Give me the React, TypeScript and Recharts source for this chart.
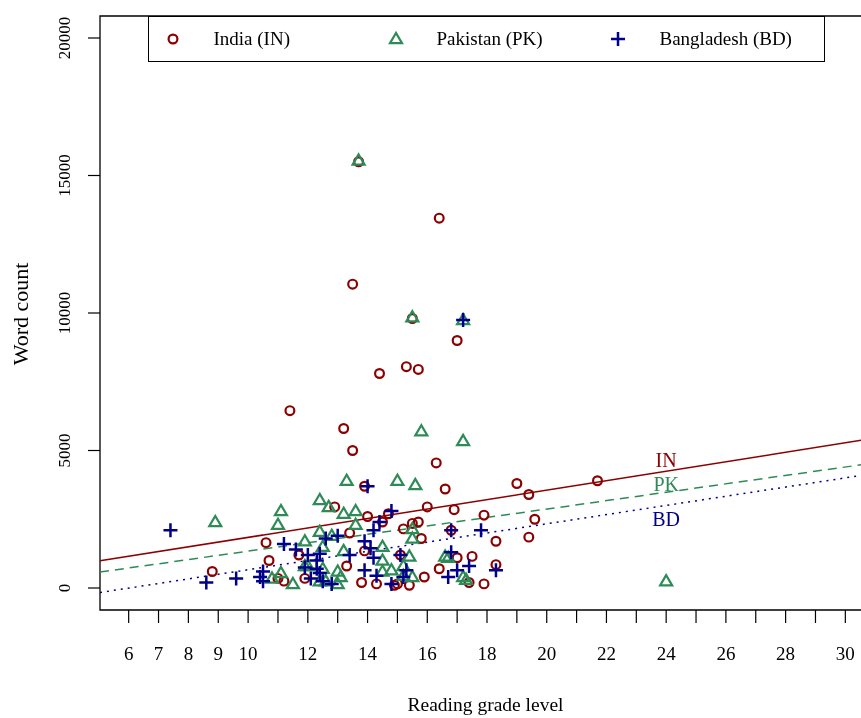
import React from "react";
import {
  Legend,
  ReferenceArea,
  ReferenceDot,
  ReferenceLine,
  Scatter,
  ScatterChart,
  XAxis,
  YAxis
} from "recharts";

const SERIF = '"Liberation Serif", "Times New Roman", serif';

// axis ranges (R style, 4% padding)
const X_MIN = 5.04;
const X_MAX = 30.96;
const Y_MIN = -800;
const Y_MAX = 20800;

const xTicks = [6, 7, 8, 9, 10, 11, 12, 13, 14, 15, 16, 17, 18, 19, 20, 21, 22, 23, 24, 25, 26, 27, 28, 29, 30];
const xTickLabels = [6, 7, 8, 9, 10, 12, 14, 16, 18, 20, 22, 24, 26, 28, 30];
const yTicks = [0, 5000, 10000, 15000, 20000];

// [reading grade level, word count]
const india: [number, number][] = [
  [13.7, 15500], [16.4, 13450], [13.5, 11050], [15.5, 9800], [17.0, 9000], [14.4, 7800],
  [15.3, 8050], [15.7, 7950], [11.4, 6450], [13.2, 5800], [13.5, 5000], [16.3, 4550],
  [16.6, 3600], [19.0, 3800], [19.4, 3400], [21.7, 3900], [12.9, 2950], [16.0, 2950],
  [16.9, 2850], [17.9, 2650], [14.0, 2600], [14.5, 2400], [15.2, 2150], [15.7, 2400],
  [15.5, 2350], [13.4, 2000], [15.8, 1800], [10.6, 1650], [11.7, 1200], [10.7, 1000],
  [13.9, 1350], [15.1, 1200], [17.0, 1100], [17.5, 1150], [8.8, 600], [11.2, 250],
  [13.3, 800], [15.9, 400], [16.4, 700], [17.9, 150], [17.4, 200], [15.4, 100],
  [13.8, 200], [14.3, 150], [15.0, 150], [11.9, 350], [11.0, 350], [19.6, 2500],
  [18.3, 1700], [19.4, 1850], [16.8, 2100], [18.3, 850], [14.9, 100], [13.9, 3700],
  [14.7, 2700]
];

const pakistan: [number, number][] = [
  [13.7, 15550], [15.5, 9850], [17.2, 9750], [8.9, 2400], [11.1, 2800], [11.0, 2300],
  [12.4, 3200], [12.7, 2950], [13.3, 3900], [13.2, 2700], [13.6, 2800], [13.6, 2300],
  [15.0, 3900], [15.6, 3750], [15.8, 5700], [17.2, 5350], [12.4, 2050], [11.9, 1700],
  [14.5, 1500], [15.5, 2150], [15.5, 1800], [15.4, 1150], [16.6, 1150], [11.1, 550],
  [10.8, 350], [11.5, 150], [12.0, 800], [12.4, 250], [13.0, 600], [13.0, 150],
  [13.2, 1350], [14.5, 600], [14.8, 650], [15.2, 800], [15.5, 400], [17.2, 400],
  [12.8, 1900], [24.0, 250], [16.7, 1100], [17.3, 300], [12.5, 1500], [11.9, 800],
  [12.5, 700], [13.1, 400], [12.6, 250], [14.5, 1000], [15.2, 450]
];

const bangladesh: [number, number][] = [
  [17.2, 9750], [14.0, 3700], [7.4, 2100], [8.6, 200], [9.6, 350], [10.4, 400],
  [10.5, 250], [11.2, 1600], [11.6, 1400], [12.0, 1200], [12.4, 1250], [12.6, 1800],
  [13.0, 1900], [11.9, 750], [12.3, 700], [12.1, 350], [12.5, 250], [12.8, 150],
  [14.8, 2800], [14.4, 2400], [14.2, 2100], [13.9, 1700], [13.4, 1200], [14.2, 1100],
  [13.9, 650], [14.3, 450], [14.8, 150], [15.1, 1200], [15.3, 650], [15.2, 400],
  [16.8, 2100], [16.8, 1300], [16.7, 400], [17.0, 650], [17.4, 800], [17.8, 2100],
  [18.3, 650], [12.3, 1000], [12.4, 550], [14.1, 1450], [10.5, 600]
];

const names = ["India (IN)", "Pakistan (PK)", "Bangladesh (BD)"];
const codes = ["IN", "PK", "BD"];
const colors = ["#8B0000", "#2E8B57", "#00008B"];
// fitted lines: word count = intercept + slope * grade
const intercepts = [120, -190, -1005];
const slopes = [172, 153, 167];
const dashes = [undefined, "9 6", "2 5"];
const codeLabelX = 24;
const codeLabelY = [4650, 3800, 2500];

const toRows = (pts: [number, number][]) => pts.map(([x, y]) => ({ x, y }));

const CircleMark = (p: any) => (
  <circle cx={p.cx} cy={p.cy} r={4.4} fill="none" stroke={colors[0]} strokeWidth={2.2} />
);
const TriangleMark = (p: any) => (
  <polygon
    points={`${p.cx},${p.cy - 6} ${p.cx - 6},${p.cy + 4.2} ${p.cx + 6},${p.cy + 4.2}`}
    fill="none"
    stroke={colors[1]}
    strokeWidth={2.2}
  />
);
const PlusMark = (p: any) => (
  <path
    d={`M${p.cx - 7},${p.cy}H${p.cx + 7}M${p.cx},${p.cy - 7}V${p.cy + 7}`}
    stroke={colors[2]}
    strokeWidth={2.5}
    fill="none"
  />
);
const marks = [CircleMark, TriangleMark, PlusMark];

const XTick = (p: any) => {
  const v = p.payload.value;
  if (!xTickLabels.includes(v)) return null;
  return (
    <text x={p.x} y={p.y + 36.5} textAnchor="middle" fontFamily={SERIF} fontSize={19} fill="#000">
      {v}
    </text>
  );
};

const YTick = (p: any) => {
  const bx = p.x - 18.3;
  return (
    <text
      x={bx}
      y={p.y}
      transform={`rotate(-90 ${bx} ${p.y})`}
      textAnchor="middle"
      fontFamily={SERIF}
      fontSize={17}
      fill="#000"
    >
      {p.payload.value}
    </text>
  );
};

const symbolX = [23.5, 246.5, 468.5];
const textX = [64.5, 287.5, 510.5];

const LegendBox = () => (
  <div
    style={{
      position: "relative",
      width: 677,
      height: 46,
      border: "1.5px solid #000",
      boxSizing: "border-box",
      background: "#fff",
      fontFamily: SERIF,
      fontSize: 19,
      color: "#000"
    }}
  >
    {names.map((n, i) => {
      const Mark = marks[i];
      return (
        <React.Fragment key={n}>
          <svg
            width={20}
            height={20}
            style={{ position: "absolute", left: symbolX[i] - 10, top: 21.5 - 10 }}
          >
            <Mark cx={10} cy={10} />
          </svg>
          <span style={{ position: "absolute", left: textX[i], top: 0, lineHeight: "44px", whiteSpace: "nowrap" }}>
            {n}
          </span>
        </React.Fragment>
      );
    })}
  </div>
);

export default function App() {
  const series = [india, pakistan, bangladesh];
  return (
    <div style={{ position: "fixed", left: 8, top: 8, width: 853, height: 710, overflow: "hidden" }}>
      <ScatterChart width={880} height={710} margin={{ top: 8, right: 14, bottom: 48, left: 0 }}>
        <XAxis
          type="number"
          dataKey="x"
          domain={[X_MIN, X_MAX]}
          ticks={xTicks}
          interval={0}
          allowDataOverflow
          axisLine={false}
          tickLine={{ stroke: "#000", strokeWidth: 1.2 }}
          tickSize={13}
          tickMargin={0}
          height={60}
          tick={XTick}
          label={(props: any) => {
            const vb = props.viewBox;
            return (
              <text
                x={vb.x + vb.width / 2 - 1.5}
                y={vb.y + 101}
                textAnchor="middle"
                fontFamily={SERIF}
                fontSize={19.5}
                fill="#000"
              >
                Reading grade level
              </text>
            );
          }}
        />
        <YAxis
          type="number"
          dataKey="y"
          domain={[Y_MIN, Y_MAX]}
          ticks={yTicks}
          interval={0}
          allowDataOverflow
          axisLine={false}
          tickLine={{ stroke: "#000", strokeWidth: 1.2 }}
          tickSize={12}
          tickMargin={0}
          width={92}
          tick={YTick}
          label={(props: any) => {
            const vb = props.viewBox;
            const bx = vb.x + 19.5;
            const cy = vb.y + vb.height / 2 + 1;
            return (
              <text
                x={bx}
                y={cy}
                transform={`rotate(-90 ${bx} ${cy})`}
                textAnchor="middle"
                fontFamily={SERIF}
                fontSize={22}
                fill="#000"
              >
                Word count
              </text>
            );
          }}
        />
        <ReferenceArea
          x1={X_MIN}
          x2={X_MAX}
          y1={Y_MIN}
          y2={Y_MAX}
          fill="none"
          stroke="#000"
          strokeWidth={1.3}
          ifOverflow="visible"
        />
        {series.map((pts, i) => (
          <Scatter
            key={codes[i]}
            name={names[i]}
            data={toRows(pts)}
            shape={marks[i]}
            isAnimationActive={false}
          />
        ))}
        {codes.map((c, i) => (
          <ReferenceLine
            key={"line-" + c}
            segment={[
              { x: X_MIN, y: intercepts[i] + slopes[i] * X_MIN },
              { x: X_MAX, y: intercepts[i] + slopes[i] * X_MAX }
            ]}
            stroke={colors[i]}
            strokeWidth={1.5}
            strokeDasharray={dashes[i]}
            ifOverflow="visible"
          />
        ))}
        {codes.map((c, i) => (
          <ReferenceDot
            key={"lab-" + c}
            x={codeLabelX}
            y={codeLabelY[i]}
            r={0}
            fill="none"
            stroke="none"
            label={{ value: c, position: "center", fill: colors[i], fontSize: 20, fontFamily: SERIF }}
          />
        ))}
        <Legend
          layout="horizontal"
          align="center"
          verticalAlign="middle"
          wrapperStyle={{ left: 140, top: 8, width: 677, height: 46 }}
          content={() => <LegendBox />}
        />
      </ScatterChart>
    </div>
  );
}
